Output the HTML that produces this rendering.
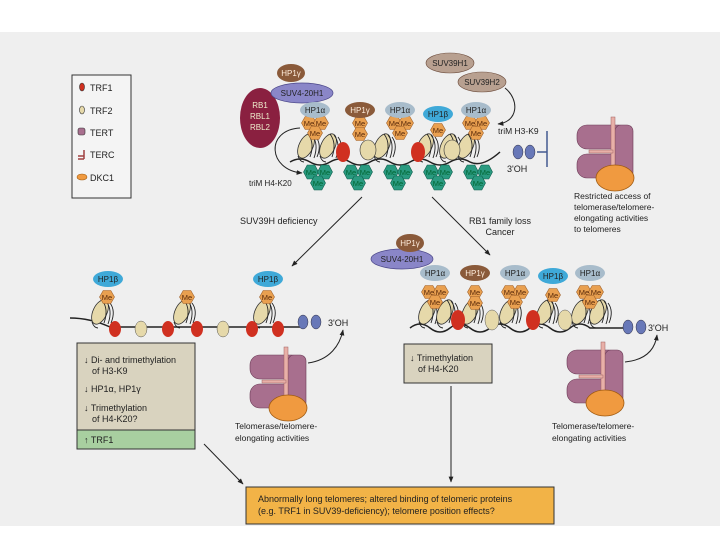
<!DOCTYPE html>
<html><head><meta charset="utf-8"><style>
html,body{margin:0;padding:0;background:#fff;width:720px;height:540px;overflow:hidden}
svg{display:block}
text{font-family:"Liberation Sans",sans-serif;fill:#222}
.me{font-size:7.5px;text-anchor:middle;fill:#5a2a0a}
.mt{font-size:7.5px;text-anchor:middle;fill:#063}
.hp{font-size:8px;text-anchor:middle;fill:#222}
.lb{font-size:9px}
</style></head><body>
<svg width="720" height="540" viewBox="0 0 720 540" xmlns="http://www.w3.org/2000/svg">
<defs>
<polygon id="ho" points="7.5,0 3.8,6.5 -3.8,6.5 -7.5,0 -3.8,-6.5 3.8,-6.5" fill="#e9a050" stroke="#a0602a" stroke-width="0.6"/>
<polygon id="ht" points="7.5,0 3.8,7 -3.8,7 -7.5,0 -3.8,-7 3.8,-7" fill="#2a9a80" stroke="#0e5e4c" stroke-width="0.6"/>
<g id="nuc"><ellipse cx="0" cy="0" rx="7" ry="13" fill="#e6d9aa" stroke="#333" stroke-width="0.8" transform="rotate(25)"/><path d="M2,-12 q7,9 2,23 M6,-11 q7,9 2,23 M10,-9 q6,8 1,20 M-8,10 q2,6 6,6" fill="none" stroke="#222" stroke-width="0.9"/></g>
<g id="tel">
<rect x="0" y="0" width="52" height="24" rx="10" fill="#a86f8e" stroke="#6a3a55" stroke-width="0.6"/>
<rect x="0" y="29" width="44" height="24" rx="10" fill="#a86f8e" stroke="#6a3a55" stroke-width="0.6"/>
<rect x="38" y="0" width="18" height="53" rx="6" fill="#a86f8e" stroke="#6a3a55" stroke-width="0.6"/>
<rect x="34" y="-8" width="4" height="56" fill="#e8b0a8" stroke="#a06060" stroke-width="0.5"/>
<rect x="12" y="25" width="24" height="3" fill="#e8b0a8" stroke="#a06060" stroke-width="0.5"/>
<ellipse cx="38" cy="53" rx="19" ry="13" fill="#f09a40" stroke="#a05a10" stroke-width="0.8"/>
</g>
<marker id="ar" viewBox="0 0 10 10" refX="9" refY="5" markerWidth="6" markerHeight="6" orient="auto"><path d="M0,1 L10,5 L0,9 z" fill="#222"/></marker>
</defs>
<rect x="0" y="32" width="720" height="494" fill="#efefef"/>

<rect x="72" y="75" width="59" height="123" fill="#f4f4f4" stroke="#333" stroke-width="1"/>
<ellipse cx="82" cy="87" rx="2.5" ry="4" fill="#d03020" stroke="#333" stroke-width="0.6"/><text x="90" y="91" class="lb">TRF1</text>
<ellipse cx="82" cy="110" rx="2.5" ry="4" fill="#e6d9aa" stroke="#333" stroke-width="0.6"/><text x="90" y="114" class="lb">TRF2</text>
<rect x="78" y="128" width="7" height="7" rx="2" fill="#a86f8e" stroke="#333" stroke-width="0.6"/><text x="90" y="136" class="lb">TERT</text>
<path d="M84,150 v9 M78,156 h6 M78,159 h6" stroke="#a04040" stroke-width="1.5" fill="none"/><text x="90" y="158" class="lb">TERC</text>
<ellipse cx="82" cy="177" rx="5" ry="3" fill="#f09a40" stroke="#a05a10" stroke-width="0.6"/><text x="90" y="181" class="lb">DKC1</text>

<ellipse cx="260" cy="118" rx="20" ry="30" fill="#8a2040"/>
<text x="260" y="108" class="hp" style="fill:#eec">RB1</text><text x="260" y="119" class="hp" style="fill:#eec">RBL1</text><text x="260" y="130" class="hp" style="fill:#eec">RBL2</text>
<ellipse cx="302" cy="93" rx="31" ry="10" fill="#8a86c8" stroke="#4a4688" stroke-width="0.7"/><text x="302" y="96" class="hp">SUV4-20H1</text>
<ellipse cx="291" cy="73" rx="14" ry="9" fill="#8a5a3a"/><text x="291" y="76" class="hp" style="fill:#fed">HP1γ</text>
<ellipse cx="450" cy="63" rx="24" ry="10" fill="#b8a090" stroke="#705040" stroke-width="0.6"/><text x="450" y="66" class="hp">SUV39H1</text>
<ellipse cx="482" cy="82" rx="24" ry="10" fill="#b8a090" stroke="#705040" stroke-width="0.6"/><text x="482" y="85" class="hp">SUV39H2</text>
<path d="M505,88 C520,100 518,122 498,124" fill="none" stroke="#222" stroke-width="1" marker-end="url(#ar)"/>
<path d="M300,128 C265,130 268,170 302,173" fill="none" stroke="#222" stroke-width="1" marker-end="url(#ar)"/>
<path d="M290,162 q10,-6 20,0 t20,0 t20,0 t20,0 t20,0 t20,0 t20,0 t20,0 t20,0 q12,6 30,-10" fill="none" stroke="#222" stroke-width="1.5"/>
<g>
<use href="#nuc" x="306" y="146"/><use href="#nuc" x="328" y="146"/><use href="#nuc" x="382" y="146"/><use href="#nuc" x="425" y="146"/><use href="#nuc" x="448" y="146"/><use href="#nuc" x="466" y="146"/>
<ellipse cx="368" cy="150" rx="8" ry="10" fill="#e6d9aa" stroke="#333" stroke-width="0.6"/>
<ellipse cx="452" cy="150" rx="8" ry="10" fill="#e6d9aa" stroke="#333" stroke-width="0.6"/>
<ellipse cx="343" cy="152" rx="7" ry="10" fill="#d03020"/><ellipse cx="418" cy="152" rx="7" ry="10" fill="#d03020"/>
</g>
<g>
<use href="#ho" x="309" y="123"/><use href="#ho" x="321" y="123"/><use href="#ho" x="315" y="133"/>
<text x="309" y="126" class="me">Me</text><text x="321" y="126" class="me">Me</text><text x="315" y="136" class="me">Me</text>
<use href="#ho" x="360" y="123"/><use href="#ho" x="360" y="134"/><text x="360" y="126" class="me">Me</text><text x="360" y="137" class="me">Me</text>
<use href="#ho" x="394" y="123"/><use href="#ho" x="406" y="123"/><use href="#ho" x="400" y="133"/>
<text x="394" y="126" class="me">Me</text><text x="406" y="126" class="me">Me</text><text x="400" y="136" class="me">Me</text>
<use href="#ho" x="438" y="130"/><text x="438" y="133" class="me">Me</text>
<use href="#ho" x="470" y="123"/><use href="#ho" x="482" y="123"/><use href="#ho" x="476" y="133"/>
<text x="470" y="126" class="me">Me</text><text x="482" y="126" class="me">Me</text><text x="476" y="136" class="me">Me</text>
</g>
<ellipse cx="315" cy="110" rx="15" ry="8" fill="#a8bccb"/><text x="315" y="113" class="hp">HP1α</text>
<ellipse cx="360" cy="110" rx="15" ry="8" fill="#8a5a3a"/><text x="360" y="113" class="hp" style="fill:#fed">HP1γ</text>
<ellipse cx="400" cy="110" rx="15" ry="8" fill="#a8bccb"/><text x="400" y="113" class="hp">HP1α</text>
<ellipse cx="438" cy="114" rx="15" ry="8" fill="#3fa9d8"/><text x="438" y="117" class="hp">HP1β</text>
<ellipse cx="476" cy="110" rx="15" ry="8" fill="#a8bccb"/><text x="476" y="113" class="hp">HP1α</text>
<g>
<use href="#ht" x="311" y="172"/><use href="#ht" x="325" y="172"/><use href="#ht" x="318" y="183"/>
<use href="#ht" x="351" y="172"/><use href="#ht" x="365" y="172"/><use href="#ht" x="358" y="183"/>
<use href="#ht" x="391" y="172"/><use href="#ht" x="405" y="172"/><use href="#ht" x="398" y="183"/>
<use href="#ht" x="431" y="172"/><use href="#ht" x="445" y="172"/><use href="#ht" x="438" y="183"/>
<use href="#ht" x="471" y="172"/><use href="#ht" x="485" y="172"/><use href="#ht" x="478" y="183"/>
<text x="311" y="175" class="mt">Me</text><text x="325" y="175" class="mt">Me</text><text x="318" y="186" class="mt">Me</text>
<text x="351" y="175" class="mt">Me</text><text x="365" y="175" class="mt">Me</text><text x="358" y="186" class="mt">Me</text>
<text x="391" y="175" class="mt">Me</text><text x="405" y="175" class="mt">Me</text><text x="398" y="186" class="mt">Me</text>
<text x="431" y="175" class="mt">Me</text><text x="445" y="175" class="mt">Me</text><text x="438" y="186" class="mt">Me</text>
<text x="471" y="175" class="mt">Me</text><text x="485" y="175" class="mt">Me</text><text x="478" y="186" class="mt">Me</text>
</g>
<text x="249" y="186" class="lb" style="font-size:8px">triM H4-K20</text>
<text x="498" y="134" class="lb" style="font-size:8.5px">triM H3-K9</text>
<ellipse cx="518" cy="152" rx="5" ry="7" fill="#6878b8" stroke="#334" stroke-width="0.5"/><ellipse cx="530" cy="152" rx="5" ry="7" fill="#6878b8" stroke="#334" stroke-width="0.5"/>
<path d="M537,152 h10 M547,131 v36" stroke="#445a90" stroke-width="1.5"/>
<text x="507" y="172" class="lb">3'OH</text>
<use href="#tel" x="577" y="125"/>
<text x="574" y="199" class="lb" style="font-size:8.5px">Restricted access of</text>
<text x="574" y="210" class="lb" style="font-size:8.5px">telomerase/telomere-</text>
<text x="574" y="221" class="lb" style="font-size:8.5px">elongating activities</text>
<text x="574" y="232" class="lb" style="font-size:8.5px">to telomeres</text>

<line x1="362" y1="197" x2="292" y2="266" stroke="#222" stroke-width="1" marker-end="url(#ar)"/>
<line x1="432" y1="197" x2="490" y2="255" stroke="#222" stroke-width="1" marker-end="url(#ar)"/>
<text x="240" y="224" class="lb">SUV39H deficiency</text>
<text x="500" y="224" class="lb" text-anchor="middle">RB1 family loss</text>
<text x="500" y="235" class="lb" text-anchor="middle">Cancer</text>

<path d="M70,318 q20,0 40,9 L300,327" fill="none" stroke="#222" stroke-width="1.5"/>
<use href="#nuc" x="100" y="312"/><use href="#nuc" x="182" y="312"/><use href="#nuc" x="262" y="312"/>
<ellipse cx="115" cy="329" rx="6" ry="8" fill="#d03020"/><ellipse cx="141" cy="329" rx="6" ry="8" fill="#e6d9aa" stroke="#555" stroke-width="0.5"/>
<ellipse cx="168" cy="329" rx="6" ry="8" fill="#d03020"/><ellipse cx="197" cy="329" rx="6" ry="8" fill="#d03020"/>
<ellipse cx="223" cy="329" rx="6" ry="8" fill="#e6d9aa" stroke="#555" stroke-width="0.5"/><ellipse cx="252" cy="329" rx="6" ry="8" fill="#d03020"/><ellipse cx="278" cy="329" rx="6" ry="8" fill="#d03020"/>
<use href="#ho" x="107" y="297"/><text x="107" y="300" class="me">Me</text>
<use href="#ho" x="187" y="297"/><text x="187" y="300" class="me">Me</text>
<use href="#ho" x="267" y="297"/><text x="267" y="300" class="me">Me</text>
<ellipse cx="108" cy="279" rx="15" ry="8" fill="#3fa9d8"/><text x="108" y="282" class="hp">HP1β</text>
<ellipse cx="268" cy="279" rx="15" ry="8" fill="#3fa9d8"/><text x="268" y="282" class="hp">HP1β</text>
<ellipse cx="303" cy="322" rx="5" ry="7" fill="#6878b8" stroke="#334" stroke-width="0.5"/><ellipse cx="316" cy="322" rx="5" ry="7" fill="#6878b8" stroke="#334" stroke-width="0.5"/>
<text x="328" y="326" class="lb">3'OH</text>
<rect x="77" y="343" width="118" height="106" fill="#d9d3bf" stroke="#333" stroke-width="1"/>
<rect x="77.5" y="430" width="117" height="18.5" fill="#a8cfa0"/>
<line x1="77" y1="430" x2="195" y2="430" stroke="#333" stroke-width="1"/>
<text x="84" y="363" class="lb">↓ Di- and trimethylation</text><text x="92" y="374" class="lb">of H3-K9</text>
<text x="84" y="392" class="lb">↓ HP1α, HP1γ</text>
<text x="84" y="411" class="lb">↓ Trimethylation</text><text x="92" y="422" class="lb">of H4-K20?</text>
<text x="84" y="443" class="lb">↑ TRF1</text>
<use href="#tel" x="250" y="355"/>
<path d="M308,363 C330,360 340,345 343,330" fill="none" stroke="#222" stroke-width="1" marker-end="url(#ar)"/>
<text x="235" y="429" class="lb" style="font-size:8.5px">Telomerase/telomere-</text>
<text x="235" y="441" class="lb" style="font-size:8.5px">elongating activities</text>

<path d="M410,328 q10,-8 20,0 t20,0 t20,0 t20,0 t20,0 t20,0 t20,0 t20,0 t20,0 L628,328" fill="none" stroke="#222" stroke-width="1.5"/>
<use href="#nuc" x="427" y="312"/><use href="#nuc" x="445" y="312"/><use href="#nuc" x="470" y="312"/><use href="#nuc" x="508" y="312"/><use href="#nuc" x="545" y="312"/><use href="#nuc" x="580" y="312"/><use href="#nuc" x="598" y="312"/>
<ellipse cx="492" cy="320" rx="7" ry="10" fill="#e6d9aa" stroke="#555" stroke-width="0.5"/><ellipse cx="565" cy="320" rx="7" ry="10" fill="#e6d9aa" stroke="#555" stroke-width="0.5"/>
<ellipse cx="458" cy="320" rx="7" ry="10" fill="#d03020"/><ellipse cx="533" cy="320" rx="7" ry="10" fill="#d03020"/>
<use href="#ho" x="429" y="292"/><use href="#ho" x="441" y="292"/><use href="#ho" x="435" y="302"/>
<text x="429" y="295" class="me">Me</text><text x="441" y="295" class="me">Me</text><text x="435" y="305" class="me">Me</text>
<use href="#ho" x="475" y="292"/><use href="#ho" x="475" y="303"/><text x="475" y="295" class="me">Me</text><text x="475" y="306" class="me">Me</text>
<use href="#ho" x="509" y="292"/><use href="#ho" x="521" y="292"/><use href="#ho" x="515" y="302"/>
<text x="509" y="295" class="me">Me</text><text x="521" y="295" class="me">Me</text><text x="515" y="305" class="me">Me</text>
<use href="#ho" x="553" y="295"/><text x="553" y="298" class="me">Me</text>
<use href="#ho" x="584" y="292"/><use href="#ho" x="596" y="292"/><use href="#ho" x="590" y="302"/>
<text x="584" y="295" class="me">Me</text><text x="596" y="295" class="me">Me</text><text x="590" y="305" class="me">Me</text>
<ellipse cx="402" cy="259" rx="31" ry="10" fill="#8a86c8" stroke="#4a4688" stroke-width="0.7"/><text x="402" y="262" class="hp">SUV4-20H1</text>
<ellipse cx="410" cy="243" rx="14" ry="9" fill="#8a5a3a"/><text x="410" y="246" class="hp" style="fill:#fed">HP1γ</text>
<ellipse cx="435" cy="273" rx="15" ry="8" fill="#a8bccb"/><text x="435" y="276" class="hp">HP1α</text>
<ellipse cx="475" cy="273" rx="15" ry="8" fill="#8a5a3a"/><text x="475" y="276" class="hp" style="fill:#fed">HP1γ</text>
<ellipse cx="515" cy="273" rx="15" ry="8" fill="#a8bccb"/><text x="515" y="276" class="hp">HP1α</text>
<ellipse cx="553" cy="276" rx="15" ry="8" fill="#3fa9d8"/><text x="553" y="279" class="hp">HP1β</text>
<ellipse cx="590" cy="273" rx="15" ry="8" fill="#a8bccb"/><text x="590" y="276" class="hp">HP1α</text>
<ellipse cx="628" cy="327" rx="5" ry="7" fill="#6878b8" stroke="#334" stroke-width="0.5"/><ellipse cx="641" cy="327" rx="5" ry="7" fill="#6878b8" stroke="#334" stroke-width="0.5"/>
<text x="648" y="331" class="lb">3'OH</text>
<rect x="404" y="344" width="88" height="39" fill="#d9d3bf" stroke="#333" stroke-width="1"/>
<text x="410" y="361" class="lb">↓ Trimethylation</text><text x="418" y="372" class="lb">of H4-K20</text>
<line x1="451" y1="386" x2="451" y2="482" stroke="#222" stroke-width="1" marker-end="url(#ar)"/>
<use href="#tel" x="567" y="350"/>
<path d="M625,362 C645,360 655,350 657,335" fill="none" stroke="#222" stroke-width="1" marker-end="url(#ar)"/>
<text x="552" y="429" class="lb" style="font-size:8.5px">Telomerase/telomere-</text>
<text x="552" y="441" class="lb" style="font-size:8.5px">elongating activities</text>

<line x1="204" y1="444" x2="243" y2="484" stroke="#222" stroke-width="1" marker-end="url(#ar)"/>
<rect x="246" y="487" width="308" height="37" fill="#f2b347" stroke="#333" stroke-width="1"/>
<text x="258" y="502" class="lb">Abnormally long telomeres; altered binding of telomeric proteins</text>
<text x="258" y="514" class="lb">(e.g. TRF1 in SUV39-deficiency); telomere position effects?</text>
</svg>
</body></html>
